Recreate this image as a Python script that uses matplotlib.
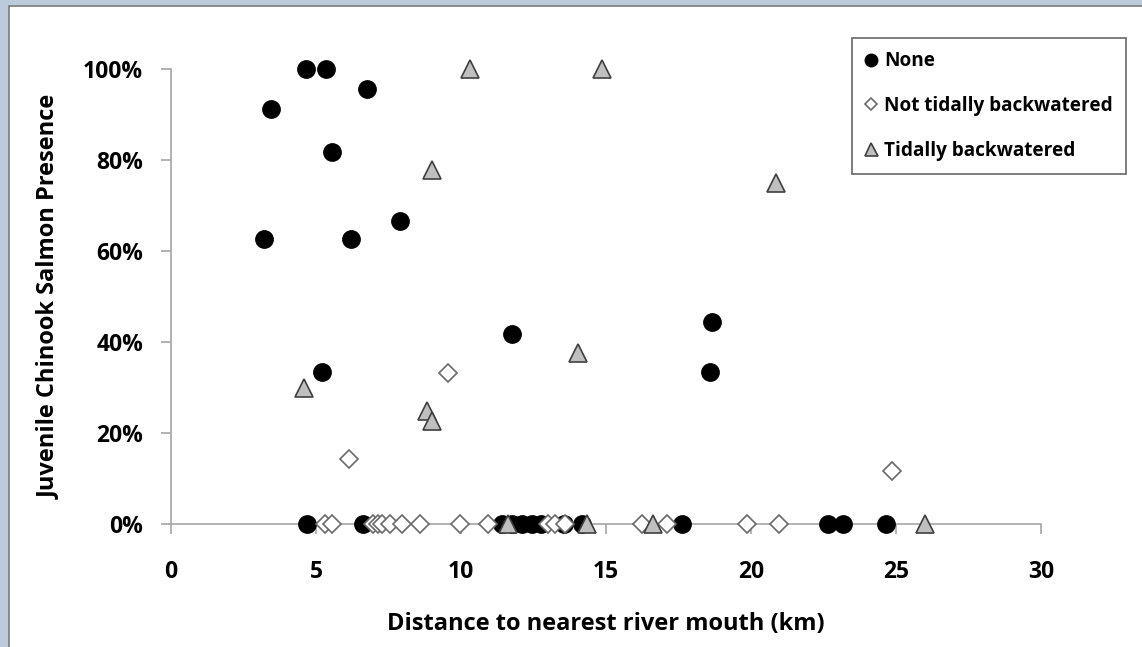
import matplotlib
matplotlib.use("Agg")
import matplotlib.pyplot as plt
from matplotlib.patches import Rectangle
from matplotlib.ticker import PercentFormatter

plt.rcParams['font.family'] = ['Open Sans', 'DejaVu Sans']
plt.rcParams['font.weight'] = 'bold'

# series: none (black circles)
none_x = [3.21, 3.45, 4.65, 5.34, 6.75, 5.56, 6.21, 7.89, 5.2, 11.77, 18.64, 18.59,
          4.69, 6.62, 11.4, 11.75, 12.1, 12.45, 12.75, 13.55, 14.17, 17.62, 22.66, 23.17, 24.66]
none_y = [0.626, 0.912, 1.0, 1.0, 0.956, 0.818, 0.626, 0.666, 0.333, 0.417, 0.445, 0.335,
          0, 0, 0, 0, 0, 0, 0, 0, 0, 0, 0, 0, 0]

# not tidally backwatered (white diamonds)
not_x = [9.56, 6.15, 24.87,
         5.31, 5.55, 6.97, 7.14, 7.28, 7.55, 7.97, 8.59, 9.97, 10.93, 13.0, 13.24, 13.59,
         16.24, 17.1, 19.86, 20.97]
not_y = [0.331, 0.142, 0.117,
         0, 0, 0, 0, 0, 0, 0, 0, 0, 0, 0, 0, 0, 0, 0, 0, 0]

# tidally backwatered (grey triangles)
tidal_x = [10.31, 14.86, 8.99, 20.85, 14.02, 4.59, 8.82, 9.01, 11.62, 14.34, 16.62, 26.0]
tidal_y = [1.0, 1.0, 0.778, 0.749, 0.375, 0.30, 0.248, 0.226, 0, 0, 0, 0]

labels = ['None', 'Not tidally backwatered', 'Tidally backwatered']

fig = plt.figure(figsize=(11.42, 6.47), dpi=100)
fig.patch.set_facecolor('#bccbdc')
fig.add_artist(Rectangle((9 / 1142, -0.01), 1.0, 1 - 6 / 647 + 0.01, transform=fig.transFigure,
                         facecolor='white', edgecolor='#7a7a7a', lw=1.2, zorder=0))

ax = fig.add_axes([171 / 1142, 123 / 647, 870 / 1142, 455 / 647])
ax.set_facecolor('none')

ax.plot(none_x, none_y, 'o', ms=12.5, mfc='black', mec='black', label=labels[0],
        clip_on=False, zorder=3)
ax.plot(not_x, not_y, 'D', ms=9, mfc='white', mec='#6a6a6a', mew=1.2, label=labels[1],
        clip_on=False, zorder=4)
ax.plot(tidal_x, tidal_y, '^', ms=13, mfc='#bfbfbf', mec='#3f3f3f', mew=1.2, label=labels[2],
        clip_on=False, zorder=5)

ax.set_xlim(0, 30)
ax.set_ylim(0, 1)
ax.set_xticks(range(0, 31, 5))
ax.set_yticks([0, 0.2, 0.4, 0.6, 0.8, 1.0])
ax.yaxis.set_major_formatter(PercentFormatter(1.0, decimals=0))

for s in ['top', 'right']:
    ax.spines[s].set_visible(False)
for s in ['left', 'bottom']:
    ax.spines[s].set_color('#a6a6a6')
    ax.spines[s].set_linewidth(1.2)
ax.tick_params(colors='#a6a6a6', length=7, width=1.2, labelsize=16.5, labelcolor='black')
ax.tick_params(axis='x', pad=19)
ax.tick_params(axis='y', pad=13)
for t in ax.get_xticklabels() + ax.get_yticklabels():
    t.set_fontweight('bold')

ax.set_xlabel('Distance to nearest river mouth (km)', fontsize=17, fontweight='bold', labelpad=20)
ax.set_ylabel('Juvenile Chinook Salmon Presence', fontsize=17, fontweight='bold', labelpad=16)

leg = ax.legend(loc='upper left', bbox_to_anchor=(852 / 1142, 1 - 38 / 647),
                bbox_transform=fig.transFigure, markerscale=0.72, fontsize=13.7,
                frameon=True, fancybox=False, edgecolor='#404040', handlelength=0.6,
                handletextpad=0.4, labelspacing=1.3, borderpad=0.7, borderaxespad=0)
leg.get_frame().set_linewidth(1.2)
for t in leg.get_texts():
    t.set_fontweight('bold')

fig.savefig('out.png', dpi=100, facecolor=fig.get_facecolor())
